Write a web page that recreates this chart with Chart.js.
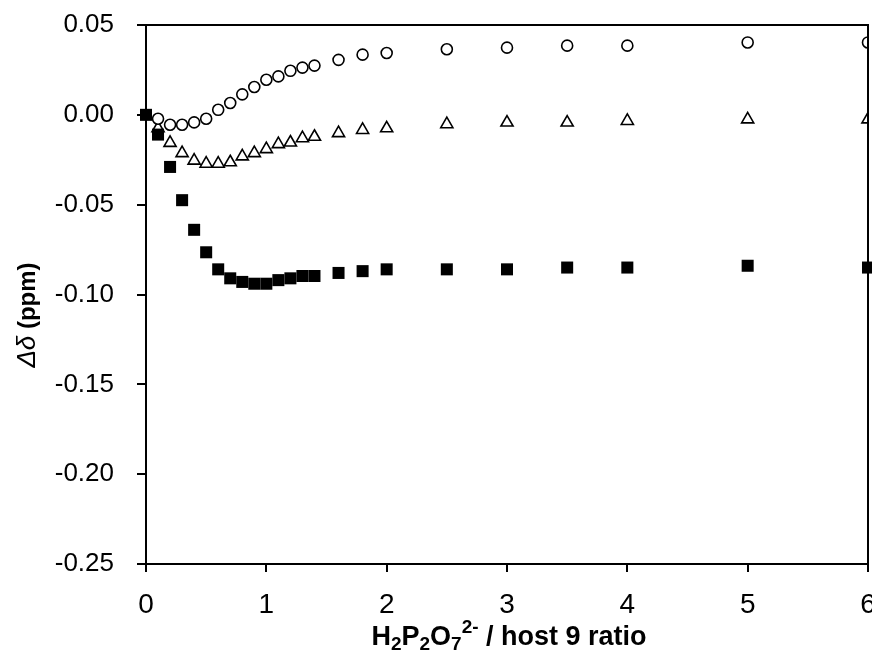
<!DOCTYPE html>
<html>
<head>
<meta charset="utf-8">
<title>Δδ vs H2P2O7 2- / host 9</title>
<script src="https://cdn.jsdelivr.net/npm/chart.js@4/dist/chart.umd.min.js"></script>
<style>
  html, body { margin: 0; padding: 0; background: #fff; }
  #grafico { display: block; }
</style>
</head>
<body>
<canvas id="grafico" width="872" height="651"></canvas>
<script>
// razões H2P2O7 2- / hospedeiro 9
var razaoQuad = [0, 0.1, 0.2, 0.3, 0.4, 0.5, 0.6, 0.7, 0.8, 0.9, 1.0, 1.1, 1.2, 1.3, 1.4, 1.6, 1.8, 2.0, 2.5, 3.0, 3.5, 4.0, 5.0, 6.0];
var razaoAberta = [0.1, 0.2, 0.3, 0.4, 0.5, 0.6, 0.7, 0.8, 0.9, 1.0, 1.1, 1.2, 1.3, 1.4, 1.6, 1.8, 2.0, 2.5, 3.0, 3.5, 4.0, 5.0, 6.0];

// Δδ (ppm)
var deltaQuad = [0, -0.011, -0.029, -0.0475, -0.064, -0.0765, -0.086, -0.091, -0.093, -0.094, -0.094, -0.092, -0.091, -0.0897, -0.0897, -0.088, -0.087, -0.086, -0.086, -0.086, -0.085, -0.085, -0.084, -0.085];
var deltaCirc = [-0.0022, -0.0055, -0.0055, -0.0042, -0.0022, 0.0028, 0.0066, 0.0114, 0.0155, 0.0195, 0.0214, 0.0245, 0.0263, 0.0274, 0.0306, 0.0335, 0.0344, 0.0365, 0.0374, 0.0385, 0.0385, 0.0403, 0.0403];
var deltaTri = [-0.0075, -0.0156, -0.0213, -0.0255, -0.0272, -0.0272, -0.0264, -0.0231, -0.0213, -0.0191, -0.0163, -0.0154, -0.013, -0.0122, -0.0102, -0.0084, -0.0075, -0.0052, -0.0043, -0.0043, -0.0034, -0.0025, -0.0025];

var ticksX = [0, 1, 2, 3, 4, 5, 6];
var ticksY = [-0.25, -0.20, -0.15, -0.10, -0.05, 0.00, 0.05];

function pares(xs, ys) {
  return xs.map(function (x, i) { return { x: x, y: ys[i] }; });
}

// moldura (topo e direita) e títulos com índices
var extras = {
  id: "extras",
  afterDraw: function (chart) {
    var ctx = chart.ctx, a = chart.chartArea;
    ctx.save();
    ctx.strokeStyle = "#000";
    ctx.lineWidth = 2;
    ctx.beginPath();
    ctx.moveTo(a.left, a.top);
    ctx.lineTo(a.right, a.top);
    ctx.lineTo(a.right, a.bottom);
    ctx.stroke();

    ctx.fillStyle = "#000";
    ctx.textBaseline = "alphabetic";
    var fam = "'Liberation Sans', Arial, sans-serif";
    var partes = [
      ["H", 0, "bold 27px " + fam],
      ["2", 5, "bold 19px " + fam],
      ["P", 0, "bold 27px " + fam],
      ["2", 5, "bold 19px " + fam],
      ["O", 0, "bold 27px " + fam],
      ["7", 5, "bold 19px " + fam],
      ["2-", -12, "bold 19px " + fam],
      [" / host 9 ratio", 0, "bold 27px " + fam]
    ];
    var total = 0;
    partes.forEach(function (p) { ctx.font = p[2]; total += ctx.measureText(p[0]).width; });
    var x = (a.left + a.right) / 2 - total / 2 + 2, base = 645;
    partes.forEach(function (p) {
      ctx.font = p[2];
      ctx.fillText(p[0], x, base + p[1]);
      x += ctx.measureText(p[0]).width;
    });

    // título Y
    ctx.translate(35, 315);
    ctx.rotate(-Math.PI / 2);
    var yPartes = [["Δδ", "italic 26px " + fam], [" (ppm)", "bold 24px " + fam]];
    var w = 0;
    yPartes.forEach(function (p) { ctx.font = p[1]; w += ctx.measureText(p[0]).width; });
    var px = -w / 2;
    yPartes.forEach(function (p) {
      ctx.font = p[1];
      ctx.fillText(p[0], px, 0);
      px += ctx.measureText(p[0]).width;
    });
    ctx.restore();
  }
};

new Chart(document.getElementById("grafico"), {
  type: "scatter",
  data: {
    datasets: [
      { label: "quadrados", data: pares(razaoQuad, deltaQuad), pointStyle: "rect", pointRadius: 8.5,
        backgroundColor: "#000", borderColor: "#000", borderWidth: 0, clip: false },
      { label: "círculos", data: pares(razaoAberta, deltaCirc), pointStyle: "circle", pointRadius: 5.5,
        backgroundColor: "#fff", borderColor: "#000", borderWidth: 1.6, clip: { left: false, top: false, right: 0, bottom: false } },
      { label: "triângulos", data: pares(razaoAberta, deltaTri), pointStyle: "triangle", pointRadius: 7,
        backgroundColor: "#fff", borderColor: "#000", borderWidth: 1.6, clip: { left: false, top: false, right: 0, bottom: false } }
    ]
  },
  options: {
    responsive: false,
    animation: false,
    devicePixelRatio: 1,
    layout: { autoPadding: false, padding: { top: 25, right: 4, left: 0, bottom: 0 } },
    plugins: { legend: { display: false }, tooltip: { enabled: false } },
    scales: {
      x: {
        type: "linear", min: 0, max: 6,
        afterFit: function (s) { s.height = 87; s.paddingLeft = 0; s.paddingRight = 0; },
        afterBuildTicks: function (s) { s.ticks = ticksX.map(function (v) { return { value: v }; }); },
        grid: { drawOnChartArea: false, drawTicks: true, tickLength: 8, color: "#000", lineWidth: 2 },
        border: { color: "#000", width: 2 },
        ticks: { color: "#000", padding: 16, maxRotation: 0,
          font: { family: "'Liberation Sans Narrow', 'Liberation Sans', Arial, sans-serif", size: 28 },
          callback: function (v) { return String(v); } }
      },
      y: {
        type: "linear", min: -0.25, max: 0.05,
        afterFit: function (s) { s.width = 146; s.paddingTop = 0; s.paddingBottom = 0; },
        afterBuildTicks: function (s) { s.ticks = ticksY.map(function (v) { return { value: v }; }); },
        grid: { drawOnChartArea: false, drawTicks: true, tickLength: 9, color: "#000", lineWidth: 2 },
        border: { color: "#000", width: 2 },
        ticks: { color: "#000", padding: 23,
          font: { family: "'Liberation Sans', Arial, sans-serif", size: 26 },
          callback: function (v) { return Math.abs(v) < 1e-9 ? "0.00" : Number(v).toFixed(2); } }
      }
    }
  },
  plugins: [extras]
});
</script>
</body>
</html>
